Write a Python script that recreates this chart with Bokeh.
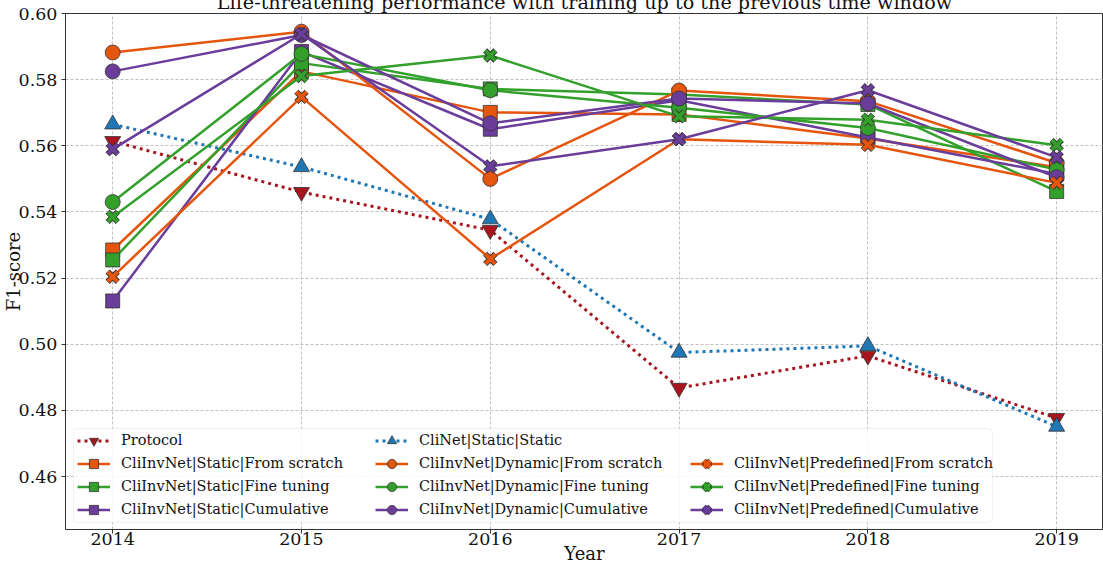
from bokeh.plotting import figure
from bokeh.models import (Legend, LegendItem, BoxAnnotation, FixedTicker,
                          NumeralTickFormatter, Range1d)
from bokeh.embed import file_html
from bokeh.resources import INLINE

# ---------------- data ----------------
years = [2014, 2015, 2016, 2017, 2018, 2019]
y_ticks = [0.46, 0.48, 0.50, 0.52, 0.54, 0.56, 0.58, 0.60]
title_text = "Life-threatening performance with training up to the previous time window"
x_label = "Year"
y_label = "F1-score"

protocol = [0.5614, 0.5460, 0.5345, 0.4868, 0.4965, 0.4777]
clinet_static = [0.5665, 0.5536, 0.5378, 0.4975, 0.4995, 0.4751]

static_scratch = [0.5285, 0.5825, 0.5701, 0.5695, 0.5622, 0.5535]
static_finetune = [0.5255, 0.5850, 0.5772, 0.5755, 0.5725, 0.5462]
static_cumulative = [0.5131, 0.5885, 0.5650, 0.5738, 0.5625, 0.5515]

dynamic_scratch = [0.5882, 0.5945, 0.5500, 0.5767, 0.5735, 0.5548]
dynamic_finetune = [0.5430, 0.5878, 0.5768, 0.5715, 0.5654, 0.5528]
dynamic_cumulative = [0.5825, 0.5935, 0.5668, 0.5743, 0.5728, 0.5505]

predef_scratch = [0.5204, 0.5748, 0.5258, 0.5620, 0.5603, 0.5488]
predef_finetune = [0.5385, 0.5811, 0.5873, 0.5689, 0.5679, 0.5602]
predef_cumulative = [0.5590, 0.5938, 0.5538, 0.5620, 0.5768, 0.5565]

RED = "#a8151f"
BLUE = "#1f77b4"
ORANGE = "#e6550d"
GREEN = "#33a02c"
PURPLE = "#6a3d9a"
EDGE = "#333333"
FONT = "DejaVu Serif"

# (label, values, color, marker, dotted)
series = [
    ("Protocol", protocol, RED, "inverted_triangle", True),
    ("CliInvNet|Static|From scratch", static_scratch, ORANGE, "square", False),
    ("CliInvNet|Static|Fine tuning", static_finetune, GREEN, "square", False),
    ("CliInvNet|Static|Cumulative", static_cumulative, PURPLE, "square", False),
    ("CliNet|Static|Static", clinet_static, BLUE, "triangle", True),
    ("CliInvNet|Dynamic|From scratch", dynamic_scratch, ORANGE, "circle", False),
    ("CliInvNet|Dynamic|Fine tuning", dynamic_finetune, GREEN, "circle", False),
    ("CliInvNet|Dynamic|Cumulative", dynamic_cumulative, PURPLE, "circle", False),
    ("CliInvNet|Predefined|From scratch", predef_scratch, ORANGE, "x", False),
    ("CliInvNet|Predefined|Fine tuning", predef_finetune, GREEN, "x", False),
    ("CliInvNet|Predefined|Cumulative", predef_cumulative, PURPLE, "x", False),
]
marker_sizes = {"inverted_triangle": 16, "triangle": 16, "square": 14, "circle": 15}

# ---------------- figure ----------------
p = figure(width=1111, height=584,
           x_range=Range1d(2013.75, 2019.248), y_range=Range1d(0.444, 0.60),
           output_backend="svg", toolbar_location=None,
           min_border_left=73, min_border_right=0, min_border_top=24, min_border_bottom=43)
p.margin = (-12, 0, -20, -8)
p.background_fill_color = "white"
p.border_fill_color = "white"
p.outline_line_color = EDGE
p.outline_line_width = 1

p.title.text = title_text
p.title.align = "center"
p.title.text_font = FONT
p.title.text_font_size = "19.2px"
p.title.text_font_style = "normal"
p.title.text_color = "#111111"
p.title.standoff = 0
p.title.offset = 0

for ax in (p.xaxis[0], p.yaxis[0]):
    ax.axis_line_color = EDGE
    ax.major_tick_line_color = EDGE
    ax.major_tick_out = 4
    ax.major_tick_in = 0
    ax.minor_tick_out = 0
    ax.minor_tick_in = 0
    ax.major_label_text_font = FONT
    ax.major_label_text_font_size = "17.5px"
    ax.major_label_text_color = "#111111"
    ax.axis_label_text_font = FONT
    ax.axis_label_text_font_size = "18px"
    ax.axis_label_text_font_style = "normal"
    ax.axis_label_text_color = "#111111"

p.xaxis.ticker = FixedTicker(ticks=years)
p.xaxis.major_label_standoff = -1
p.xaxis.axis_label = x_label
p.xaxis.axis_label_standoff = -5
p.yaxis.ticker = FixedTicker(ticks=y_ticks)
p.yaxis.formatter = NumeralTickFormatter(format="0.00")
p.yaxis.major_label_standoff = 4
p.yaxis.axis_label = y_label
p.yaxis.axis_label_standoff = -8

for g in (p.xgrid[0], p.ygrid[0]):
    g.grid_line_color = "#b0b0b0"
    g.grid_line_dash = "3 2"
    g.grid_line_width = 0.8

items = []
for label, vals, color, marker, dotted in series:
    rs = []
    if dotted:
        rs.append(p.line(years, vals, line_color=color, line_width=3, line_dash="3 4"))
    else:
        rs.append(p.line(years, vals, line_color=color, line_width=2.5))
    if marker == "x":
        rs.append(p.scatter(years, vals, marker="x", size=14.5, line_color=EDGE, line_width=5.8))
        rs.append(p.scatter(years, vals, marker="x", size=14, line_color=color, line_width=4))
    else:
        rs.append(p.scatter(years, vals, marker=marker, size=marker_sizes[marker],
                            fill_color=color, line_color=EDGE, line_width=0.8))
    items.append(LegendItem(label=label, renderers=rs))

# legend frame
box = BoxAnnotation(left=8, right=927, top=101, bottom=7,
                    left_units="screen", right_units="screen",
                    top_units="screen", bottom_units="screen",
                    fill_color="white", fill_alpha=0.8,
                    line_color="#cccccc", line_width=1, border_radius=4)
p.add_layout(box)


def make_legend(its, x):
    lg = Legend(items=its, location=(x, 8.5), orientation="vertical",
                glyph_width=33, glyph_height=23, spacing=0, padding=0, margin=0,
                label_standoff=11, label_text_font=FONT, label_text_font_size="14.5px",
                label_text_color="#111111", label_height=23,
                border_line_alpha=0, background_fill_alpha=0)
    p.add_layout(lg, "center")


make_legend(items[0:4], 12)
make_legend(items[4:8], 310)
make_legend(items[8:11], 625)

open("out.html", "w").write(file_html(p, INLINE))
